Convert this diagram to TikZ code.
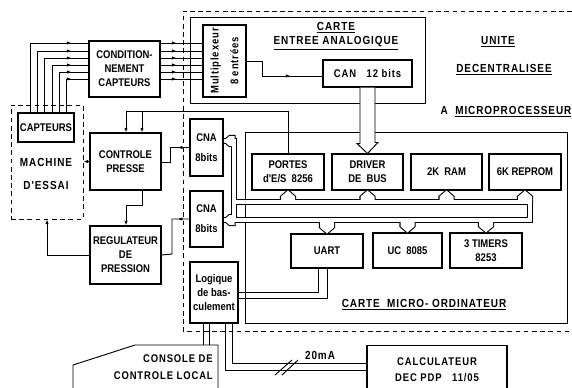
\documentclass[tikz,border=0pt]{standalone}
\usepackage{fontspec}
\usetikzlibrary{arrows.meta, decorations.markings}
\newfontfamily\lettering[FakeStretch=0.85]{Liberation Sans}
\newfontfamily\spaced[FakeStretch=0.85, LetterSpace=8]{Liberation Sans}
\def\pxu{0.03cm}

\begin{document}
\begin{tikzpicture}[
    x=\pxu, y=-\pxu,
    box/.style={
        draw,
        line width=0.9pt,
        inner sep=0pt,
        align=center,
        font=\lettering\bfseries\fontsize{9.5}{12}\selectfont
    },
    txt/.style={align=center, inner sep=0pt, font=\lettering\bfseries\fontsize{9.5}{12}\selectfont},
    title/.style={txt, font=\spaced\bfseries\fontsize{10}{12}\selectfont},
    wire/.style={line width=0.8pt},
    tip/.style={-{Latex[length=4pt,width=3pt]}},
    flow/.style={postaction=decorate, decoration={markings,
        mark=at position #1 with {\arrow{Latex[length=4pt,width=3pt]}}}},
    frame/.style={line width=0.8pt, dash pattern=on 4pt off 3pt}
]
\useasboundingbox (0,0) rectangle (572,387);

% outer unit and boards
\draw[frame] (572,11) -- (183,11) -- (183,331) -- (572,331);
\draw[wire] (190,17) rectangle (425,103);
\draw[wire] (245,132) rectangle (567,323);

\node[title] at (498,42) {\underline{UNITE}};
\node[title] at (504,70) {\underline{DECENTRALISEE}};
\node[title] at (506,112) {A~~\underline{MICROPROCESSEUR}};
\node[title] at (336,36) {\underline{CARTE}\\\underline{ENTREE~ANALOGIQUE}};
\node[title] at (424,305) {\underline{CARTE~~MICRO-~ORDINATEUR}};

% left side: test machine
\node[box, dashed, dash pattern=on 4pt off 3pt, line width=0.8pt,
      minimum width=72*\pxu, minimum height=114*\pxu] (mach) at (47,162) {};
\node[box, minimum width=56*\pxu, minimum height=29*\pxu] (capt) at (46,127.5) {CAPTEURS};
\node[title] at (46,174) {MACHINE\\[8pt]D'ESSAI};

\node[box, minimum width=71*\pxu, minimum height=56*\pxu] (cond) at (124.5,69) {CONDITION-\\NEMENT\\CAPTEURS};
\node[box, minimum width=71*\pxu, minimum height=57*\pxu] (ctrl) at (125.5,161.5) {CONTROLE\\PRESSE};
\node[box, minimum width=71*\pxu, minimum height=58*\pxu] (regul) at (125.5,255) {REGULATEUR\\DE\\PRESSION};

% analog board
\node[box, minimum width=43*\pxu, minimum height=72*\pxu] (mux) at (224.5,61) {};
\node[title, rotate=90, font=\spaced\bfseries\fontsize{9.5}{12}\selectfont] at (mux) {Multiplexeur\\[5pt]8 entrées};
\node[box, minimum width=89*\pxu, minimum height=27*\pxu, font=\spaced\bfseries\fontsize{9.5}{12}\selectfont] (can) at (367.5,73.5) {CAN~~~12 bits};

\node[box, minimum width=33*\pxu, minimum height=57*\pxu] (cnaA) at (206.5,147.5) {CNA\\[5pt]8bits};
\node[box, minimum width=33*\pxu, minimum height=56*\pxu] (cnaB) at (206.5,219) {CNA\\[5pt]8bits};
\node[box, minimum width=48*\pxu, minimum height=61*\pxu] (logic) at (214,292.5) {Logique\\de bas-\\culement};

% micro board
\node[box, minimum width=72*\pxu, minimum height=36*\pxu] (portes) at (288,172) {PORTES\\d'E/S~~8256};
\node[box, minimum width=71*\pxu, minimum height=36*\pxu] (driver) at (367.5,172) {DRIVER\\DE~~BUS};
\node[box, minimum width=71*\pxu, minimum height=36*\pxu] (ram) at (446.5,172) {2K~~RAM};
\node[box, minimum width=72*\pxu, minimum height=36*\pxu] (reprom) at (525,172) {6K~REPROM};
\node[box, minimum width=72*\pxu, minimum height=34*\pxu] (uart) at (327,251) {UART};
\node[box, minimum width=69*\pxu, minimum height=35*\pxu] (uc) at (407.5,250.5) {UC~~8085};
\node[box, minimum width=72*\pxu, minimum height=35*\pxu] (timers) at (486,250.5) {3 TIMERS\\8253};

% outside
\draw[wire] (73,392) -- (73,365) -- (135,345) -- (218,345) -- (218,392);
\coordinate (contop) at (175,345);
\node[title, align=right, anchor=east, font=\spaced\bfseries\fontsize{9.5}{14}\selectfont] (console) at (213,367) {CONSOLE DE\\CONTROLE~LOCAL};
\node[box, minimum width=140*\pxu, minimum height=48*\pxu, anchor=north,
      font=\spaced\bfseries\fontsize{9.5}{14}\selectfont] (calc) at (437,345) {CALCULATEUR\\DEC PDP~~~11/05};

% sensor lines
\foreach \xx/\yy in {30/43,37/51,44/58,52/65,59/72,66/79} {
    \draw[wire, flow=-0.51cm] (\xx,0 |- capt.north) |- (cond.west |- 0,\yy);
    \draw[wire, flow=0.48cm] (cond.east |- 0,\yy) -- (mux.west |- 0,\yy);
}
\draw[wire, flow=1.77cm] (mux.east |- 0,61) -| (262,76) -- (can.west |- 0,76);

% control loop
\draw[wire, tip] (ctrl.west) -- (mach.east |- ctrl.west);
\draw[wire, tip] (142,0 |- ctrl.south) |- (126,205) -- (126,0 |- regul.north);
\draw[wire, tip] (regul.west) -| (mach.south);
\draw[wire, flow=0.35cm] (cnaA.west) -| (170,162) -- (ctrl.east |- 0,162);
\draw[wire, flow=0.35cm] (cnaB.west) -| (172,254) -- (regul.east);
\draw[wire, tip] (portes.north) |- (126,111) -- (126,0 |- ctrl.north);
\draw[wire, tip] (142,111) -- (142,0 |- ctrl.north);

% bus: black outline first, white core after
\foreach \pass in {1,2} {
    \ifnum\pass=1
        \tikzset{bus/.style={line width=4.6pt, black}, head/.style={draw, line width=1.8pt}}
    \else
        \tikzset{bus/.style={line width=2.8pt, white}, head/.style={fill=white}}
    \fi
    \foreach \n in {portes,driver,ram,reprom}
        \path[head] (\n.south) -- ++(7,6) -- ++(0,6) -- ++(-14,0) -- ++(0,-6) -- cycle;
    \foreach \n in {uart,uc,timers}
        \path[head] (\n.north) -- ++(7,-6) -- ++(0,-7) -- ++(-14,0) -- ++(0,7) -- cycle;
    \foreach \n/\yy in {cnaA/141,cnaB/220}
        \path[head] (\n.east |- 0,\yy) -- ++(6,-5) -- ++(5,0) -- ++(0,10) -- ++(-5,0) -- cycle;
    \draw[bus] (cnaA.east |- 0,141) -- (234,141) -- (234,220);
    \draw[bus] (234,202) -- (530,202) -- (530,220) -- (cnaB.east |- 0,220);
}

% converter to bus driver
\draw[wire, fill=white] ([xshift=-7.5*\pxu]can.south) -- ++(0,56) -- ++(-3,0) -- (driver.north)
    -- ++(10.5,-11) -- ++(-3,0) -- ([xshift=7.5*\pxu]can.south);

% switching logic
\draw[wire] (logic.east |- 0,292) -| (318,0 |- uart.south);
\draw[wire] (logic.east |- 0,298) -| (327,0 |- uart.south);
\draw[wire] (203,0 |- logic.south) -- (203,0 |- contop);
\draw[wire] (209,0 |- logic.south) -- (209,0 |- contop);
\draw[wire] (225,0 |- logic.south) |- (calc.west |- 0,370);
\draw[wire] (232,0 |- logic.south) |- (calc.west |- 0,363);
\draw[wire] (275,375) -- (292,360);
\draw[wire] (282,375) -- (298,360);
\node[title] at (320,355) {20mA};
\end{tikzpicture}
\end{document}
